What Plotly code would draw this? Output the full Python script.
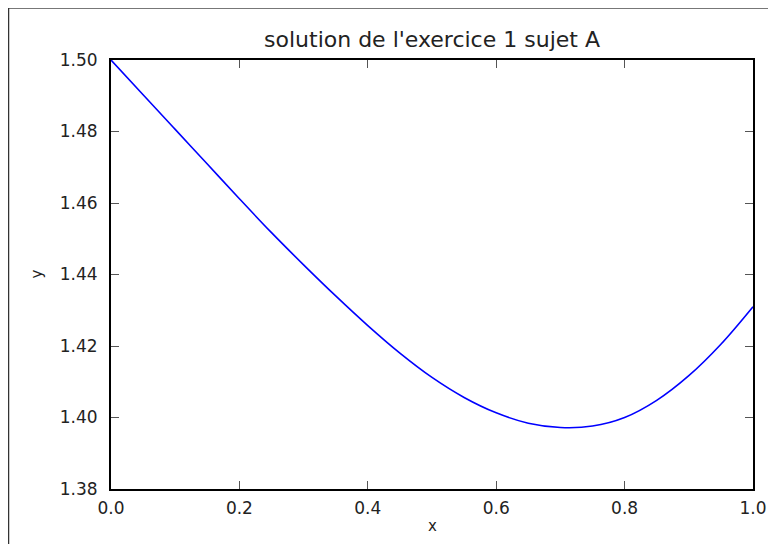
import plotly.graph_objects as go

# Data
x_values = [0.00, 0.05, 0.10, 0.15, 0.20, 0.25, 0.30, 0.35, 0.40, 0.45, 0.50,
            0.55, 0.60, 0.65, 0.70, 0.75, 0.80, 0.85, 0.90, 0.95, 1.00]
y_values = [1.5000, 1.4903, 1.4806, 1.4709, 1.4612, 1.4517, 1.4427, 1.4340, 1.4257, 1.4180, 1.4112,
            1.4056, 1.4013, 1.3984, 1.3972, 1.3976, 1.4000, 1.4048, 1.4117, 1.4205, 1.4310]
x_ticks = [0.0, 0.2, 0.4, 0.6, 0.8, 1.0]
y_ticks = [1.38, 1.40, 1.42, 1.44, 1.46, 1.48, 1.50]
title_text = "solution de l'exercice 1 sujet A"
x_label = "x"
y_label = "y"

# figure is drawn inside the page's 8px offset
W, H = 760, 536
L, R, T, B = 103, 15, 52, 55
pw, ph = W - L - R, H - T - B

def px2x(px):
    return (px - L) / pw

def px2y(py):
    return (H - B - py) / ph

font_family = "DejaVu Sans"
text_color = "#222222"

fig = go.Figure()
fig.add_trace(go.Scatter(x=x_values, y=y_values, mode="lines",
                         line=dict(color="#0000ff", width=1.6, shape="spline"),
                         showlegend=False))

axis_common = dict(showgrid=False, zeroline=False, showline=True, linecolor="black",
                   linewidth=2, mirror="ticks", ticks="inside", ticklen=8, tickwidth=1,
                   tickcolor="#555555", automargin=False,
                   tickfont=dict(family=font_family, size=17, color=text_color))

fig.update_xaxes(range=[0, 1], tickvals=x_ticks, tickformat=".1f",
                 ticklabelstandoff=3, **axis_common)
fig.update_yaxes(range=[1.38, 1.50], tickvals=y_ticks, tickformat=".2f",
                 ticklabelstandoff=8, **axis_common)

fig.update_layout(
    width=W, height=H,
    margin=dict(l=L, r=R, t=T, b=B, pad=0, autoexpand=False),
    paper_bgcolor="white", plot_bgcolor="white",
    title=dict(text=title_text, x=0.5, xref="paper", xanchor="center",
               y=1 - 31 / H, yref="container", yanchor="middle",
               font=dict(family=font_family, size=22, color=text_color)),
    annotations=[
        dict(text=x_label, x=0.5, y=px2y(518), xref="paper", yref="paper",
             xanchor="center", yanchor="middle",
             showarrow=False, font=dict(family=font_family, size=15, color=text_color)),
        dict(text=y_label, x=px2x(28), y=0.5, xref="paper", yref="paper", textangle=-90,
             xanchor="center", yanchor="middle",
             showarrow=False, font=dict(family=font_family, size=15, color=text_color)),
    ],
    shapes=[
        dict(type="line", xref="paper", yref="paper", x0=px2x(0), x1=px2x(W),
             y0=px2y(0), y1=px2y(0), line=dict(color="#777777", width=2)),
        dict(type="line", xref="paper", yref="paper", x0=px2x(0.5), x1=px2x(0.5),
             y0=px2y(0), y1=px2y(H + 8), line=dict(color="#333333", width=1.5)),
    ],
)

fig.write_html("out.html")
